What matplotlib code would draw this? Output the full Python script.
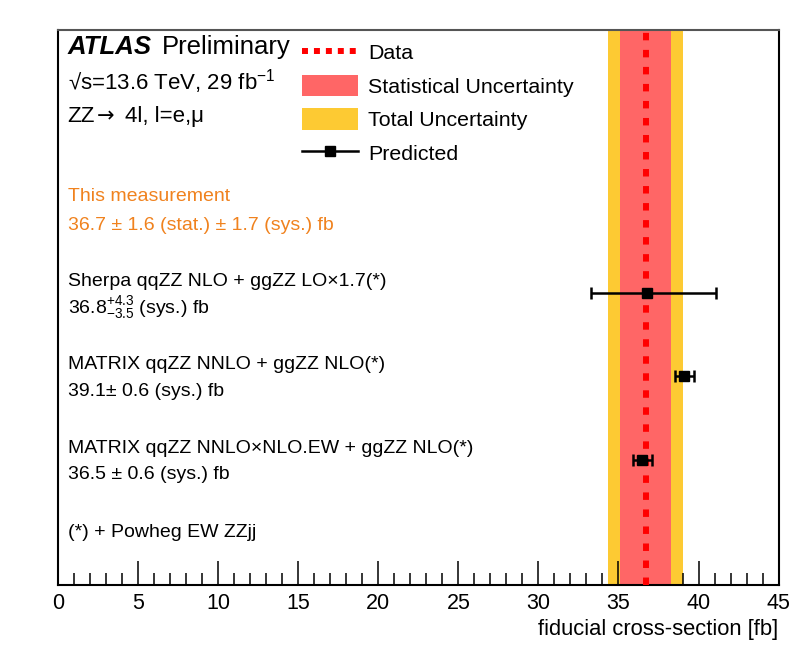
import matplotlib
matplotlib.use("Agg")
import matplotlib.pyplot as plt
from matplotlib.lines import Line2D
from matplotlib.patches import Patch
from matplotlib.ticker import MultipleLocator

plt.rcParams['font.family'] = ['Liberation Sans', 'DejaVu Sans']
plt.rcParams['mathtext.fontset'] = 'custom'
plt.rcParams['mathtext.rm'] = 'Liberation Sans'
plt.rcParams['mathtext.it'] = 'Liberation Sans:italic'

# measured value and uncertainties [fb]
data_value = 36.7
stat_err = 1.6
sys_err = 1.7
total_err = (stat_err ** 2 + sys_err ** 2) ** 0.5

# predictions (top to bottom)
pred_labels = [
    "Sherpa qqZZ NLO + ggZZ LO\u00d71.7(*)",
    "MATRIX qqZZ NNLO + ggZZ NLO(*)",
    "MATRIX qqZZ NNLO\u00d7NLO.EW + ggZZ NLO(*)",
]
pred_values = [36.8, 39.1, 36.5]
pred_err_up = [4.3, 0.6, 0.6]
pred_err_down = [3.5, 0.6, 0.6]
pred_texts = [
    r"36.8$^{+4.3}_{-3.5}$ (sys.) fb",
    "39.1\u00b1 0.6 (sys.) fb",
    "36.5 \u00b1 0.6 (sys.) fb",
]
pred_rows = [3.5, 2.5, 1.5]

stat_color = '#ff6666'
total_color = '#fdca33'
orange = '#f0821e'

fig = plt.figure(figsize=(7.98, 6.53), dpi=100)
ax = fig.add_axes([0.0727, 0.104, 0.903, 0.850])

# uncertainty bands and data line
ax.axvspan(data_value - total_err, data_value + total_err, color=total_color, lw=0, zorder=1)
ax.axvspan(data_value - stat_err, data_value + stat_err, color=stat_color, lw=0, zorder=2)
ax.axvline(data_value, color='#ff0000', lw=4.3, ls=(0, (1.25, 1.6)), zorder=3)

# predictions
ax.errorbar(pred_values, pred_rows, xerr=[pred_err_down, pred_err_up],
            fmt='s', color='black', ms=7, lw=1.8, capsize=4, capthick=1.8, zorder=5)

ax.set_xlim(0, 45)
ax.set_ylim(0, 6.65)

# text annotations
tx = 0.6
fs = 14
ax.text(tx, 4.65, "This measurement", color=orange, fontsize=fs, va='center')
ax.text(tx, 4.31, "36.7 \u00b1 1.6 (stat.) \u00b1 1.7 (sys.) fb", color=orange,
        fontsize=fs, va='center')
for row, lab, txt in zip(pred_rows, pred_labels, pred_texts):
    ax.text(tx, row + 0.14, lab, fontsize=fs, va='center')
    ax.text(tx, row - 0.18, txt, fontsize=fs, va='center')
ax.text(tx, 0.63, "(*) + Powheg EW ZZjj", fontsize=fs, va='center')

ax.text(tx, 6.45, "ATLAS", fontsize=18.5, va='center', weight='bold', style='italic')
ax.text(6.5, 6.45, "Preliminary", fontsize=18.5, va='center')
ax.text(tx, 6.03, "\u221as=13.6 TeV, 29 fb$^{-1}$", fontsize=16, va='center')
ax.text(tx, 5.61, "ZZ", fontsize=16, va='center')
ax.text(2.45, 5.61, "\u2192", fontsize=15, va='center', family='DejaVu Sans')
ax.text(4.2, 5.61, "4l, l=e,\u03bc", fontsize=16, va='center')

# legend
handles = [
    Line2D([], [], color='#ff0000', lw=4.3, ls=(0, (1.0, 1.0))),
    Patch(facecolor=stat_color, edgecolor='none'),
    Patch(facecolor=total_color, edgecolor='none'),
    Line2D([], [], color='black', lw=1.8, marker='s', ms=7),
]
leg = ax.legend(handles, ["Data", "Statistical Uncertainty", "Total Uncertainty", "Predicted"],
                loc='upper left', bbox_to_anchor=(0.315, 1.01), frameon=False,
                fontsize=15.4, handlelength=2.6, handleheight=1.15, labelspacing=0.54,
                handletextpad=0.5, borderaxespad=0.4)

# axis styling
ax.xaxis.set_major_locator(MultipleLocator(5))
ax.xaxis.set_minor_locator(MultipleLocator(1))
ax.tick_params(axis='x', which='major', direction='in', length=17, width=1.1,
               labelsize=15.5, pad=6, top=False)
ax.tick_params(axis='x', which='minor', direction='in', length=9, width=1.1, top=False)
ax.set_yticks([])
for sp in ax.spines.values():
    sp.set_linewidth(1.5)
ax.spines['top'].set_color('#555555')
ax.set_xlabel("fiducial cross-section [fb]", fontsize=15.8, loc='right', labelpad=3)

fig.savefig("out.png", dpi=100)
